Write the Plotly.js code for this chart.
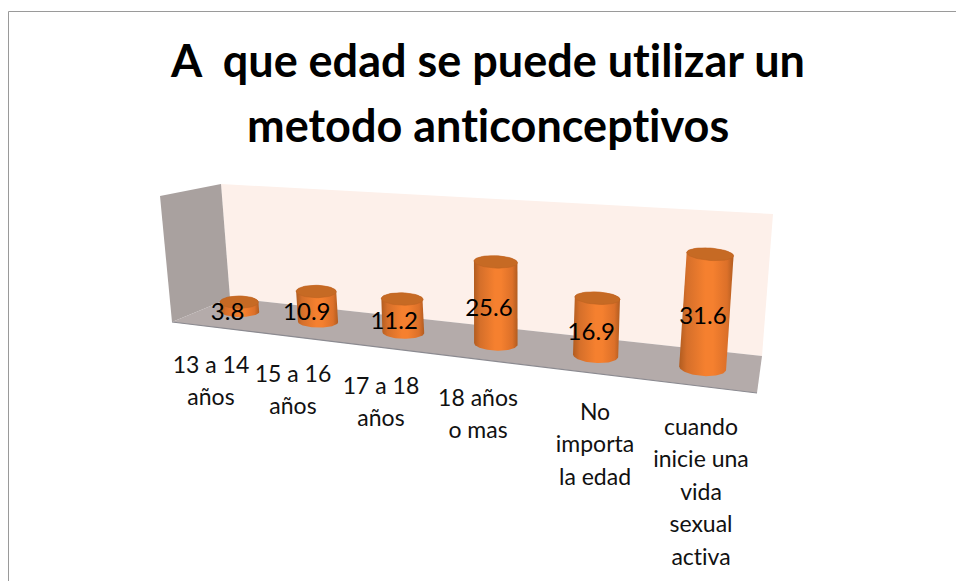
<!DOCTYPE html>
<html><head><meta charset="utf-8">
<script src="https://cdn.plot.ly/plotly-3.0.1.min.js"></script>
<style>html,body{margin:0;padding:0;background:#fff}#chart{width:956px;height:581px}
svg text{font-variant-ligatures:none!important;font-feature-settings:"liga" 0,"clig" 0,"dlig" 0,"calt" 0!important}</style>
</head><body><div id="chart"></div>
<script>
const titleLines = ["A  que edad se puede utilizar un","metodo anticonceptivos"];
const categories = [
  ["13 a 14","años"],
  ["15 a 16","años"],
  ["17 a 18","años"],
  ["18 años","o mas"],
  ["No","importa","la edad"],
  ["cuando","inicie una","vida","sexual","activa"]
];
const values = [3.8, 10.9, 11.2, 25.6, 16.9, 31.6];

const font = "Lato, Carlito, sans-serif";
const labelX = [211, 293, 381, 478, 595, 701];
const labelTop = [367, 376, 388, 400, 414, 429];
const labelStep = 32.5;

const baseX = i => 240 + 74.4*i + 3.625*i*i;
const baseY = i => 312 + 9.7*i + 0.3*i*i;
const unit  = i => 2.6 + 0.2*i;
const radius= i => 19.2 + 0.85*i;
const lean  = x => (x-500)*0.000325;
const tilt  = x => (x-240)*0.00015;

function arc(cx, cy, r, ry, t, from, to){
  const xs=[], ys=[], n=48;
  for(let k=0;k<=n;k++){
    const a = from+(to-from)*k/n;
    const dx = r*Math.cos(a);
    xs.push(cx+dx); ys.push(cy+ry*Math.sin(a)+dx*t);
  }
  return [xs,ys];
}
const bodyScale = [[0,'#b15c20'],[0.14,'#d56f2a'],[0.48,'#f5802f'],[0.62,'#f5802f'],[0.88,'#dc7029'],[1,'#b15c20']];
const traces = [];
values.forEach((v,i)=>{
  const bx=baseX(i), by=baseY(i), r=radius(i), h=v*unit(i), t=tilt(bx);
  const tx=bx+lean(bx)*h, ty=by-h;
  const ryB=5+0.6*i, ryT=6.2;
  const low=arc(bx,by,r,ryB,t,Math.PI,0);
  const top=arc(tx,ty,r,ryT,t,0,-Math.PI);
  traces.push({type:'scatter',mode:'lines',x:low[0].concat(top[0]),y:low[1].concat(top[1]),
    fill:'toself',line:{width:0},hoverinfo:'skip',showlegend:false,
    fillgradient:{type:'horizontal',colorscale:bodyScale}});
  const cap=arc(tx,ty,r,ryT,t,0,2*Math.PI);
  traces.push({type:'scatter',mode:'lines',x:cap[0],y:cap[1],fill:'toself',fillcolor:'#c66a24',
    line:{width:0.6,color:'#bd6322'},hoverinfo:'skip',showlegend:false});
});
traces.push({type:'scatter',mode:'text',hoverinfo:'skip',showlegend:false,
  x:values.map((v,i)=>baseX(i)+lean(baseX(i))*v*unit(i)/2-12+1.7*i),
  y:values.map((v,i)=>baseY(i)-v*unit(i)/2+7),
  text:values.map(v=>v.toFixed(1)),textposition:'middle center',
  textfont:{family:font,size:24,color:'#000'}});
const cx=[],cy=[],ct=[];
categories.forEach((lines,i)=>lines.forEach((s,j)=>{cx.push(labelX[i]);cy.push(labelTop[i]+j*labelStep);ct.push(s);}));
traces.push({type:'scatter',mode:'text',hoverinfo:'skip',showlegend:false,x:cx,y:cy,text:ct,
  textposition:'middle center',textfont:{family:font,size:23,color:'#111'}});

const poly = (pts,fill) => ({type:'path',xref:'x',yref:'y',layer:'below',
  path:'M'+pts.map(p=>p.join(',')).join('L')+'Z',fillcolor:fill,line:{width:0}});
const titleFont = {family:font,size:45,color:'#000',weight:700};
const layout = {
  width:956,height:581,margin:{l:0,r:0,t:0,b:0},paper_bgcolor:'#fff',plot_bgcolor:'#fff',showlegend:false,
  title:{text:titleLines[0],x:488/956,xanchor:'center',y:1-61/581,yanchor:'middle',yref:'container',font:titleFont},
  annotations:[{text:titleLines[1],xref:'x',yref:'y',x:488,y:125,xanchor:'center',yanchor:'middle',showarrow:false,font:titleFont}],
  xaxis:{range:[0,956],visible:false,fixedrange:true},
  yaxis:{range:[581,0],visible:false,fixedrange:true},
  shapes:[
    poly([[221,184],[773,214],[762,356],[230,298]],'#fdf0ea'),
    poly([[160,196],[221,184],[230,298],[172,322]],'#a9a19f'),
    poly([[172,322],[230,298],[762,356],[757,393]],'#b4abaa'),
    {type:'line',xref:'x',yref:'y',x0:172,y0:322,x1:757,y1:393,line:{color:'#8b8a90',width:1.2}},
    {type:'line',xref:'x',yref:'y',x0:8.5,y0:11.5,x1:956,y1:11.5,line:{color:'#9a9a9a',width:1}},
    {type:'line',xref:'x',yref:'y',x0:8.5,y0:11.5,x1:8.5,y1:581,line:{color:'#9a9a9a',width:1}}
  ]
};
Plotly.newPlot('chart',traces,layout,{displayModeBar:false,staticPlot:true});
</script></body></html>
